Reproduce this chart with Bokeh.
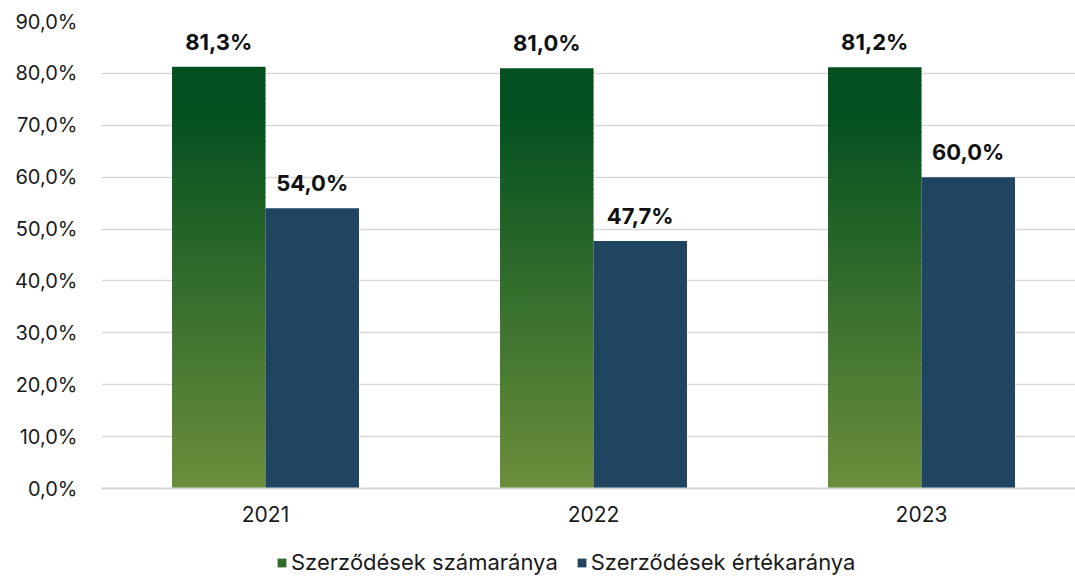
from bokeh.plotting import figure
from bokeh.models import (ColumnDataSource, FixedTicker, Legend, LegendItem, Span)
from bokeh.embed import file_html
from bokeh.resources import INLINE
from bokeh.core.properties import value

# ---- data ----
years = ["2021", "2022", "2023"]
szamarany = [81.3, 81.0, 81.2]
ertekarany = [54.0, 47.7, 60.0]
labels_sz = ["81,3%", "81,0%", "81,2%"]
labels_ert = ["54,0%", "47,7%", "60,0%"]
y_ticks = [0, 10, 20, 30, 40, 50, 60, 70, 80, 90]
series_names = ["Szerződések számaránya", "Szerződések értékaránya"]

FONT = "Inter"
GREEN_BOTTOM = (107, 142, 59)
GREEN_TOP = (2, 80, 31)
BLUE = "#1F4560"
BW = 0.285
NSEG = 90

W, H = 1075, 578
FRAME_LEFT, Y90_PX, Y0_PX = 101, 21, 488
px_per_unit = (Y0_PX - Y90_PX) / 90.0
y_start = -(H - Y0_PX) / px_per_unit
cat_px = 328.0


def grad_color(f):
    t = min(f / 0.9, 1.0)
    c = [round(GREEN_BOTTOM[i] + (GREEN_TOP[i] - GREEN_BOTTOM[i]) * t) for i in range(3)]
    return "#%02x%02x%02x" % tuple(c)


p = figure(width=W, height=H, output_backend="svg", toolbar_location=None,
           x_range=(-0.5, -0.5 + (W - FRAME_LEFT) / cat_px), y_range=(y_start, 90),
           min_border_left=FRAME_LEFT, min_border_right=0, min_border_top=Y90_PX,
           min_border_bottom=0)
p.outline_line_color = None
p.background_fill_color = "white"
p.border_fill_color = "white"
p.xaxis.visible = False

p.xgrid.grid_line_color = None
p.ygrid.grid_line_color = "#D9D9D9"
p.ygrid.grid_line_width = 1.5
p.ygrid.ticker = FixedTicker(ticks=y_ticks)

# gradient green bars (stacked thin segments)
gl, gr, gb, gt, gc = [], [], [], [], []
for i, v in enumerate(szamarany):
    for k in range(NSEG):
        gl.append(i - BW)
        gr.append(i)
        gb.append(v * k / NSEG)
        gt.append(v * (k + 1) / NSEG + (0.0 if k == NSEG - 1 else v * 0.002))
        gc.append(grad_color((k + 0.5) / NSEG))
gsrc = ColumnDataSource(dict(left=gl, right=gr, bottom=gb, top=gt, color=gc))
r_green = p.quad(left="left", right="right", bottom="bottom", top="top",
                 fill_color="color", line_color=None, source=gsrc)

bsrc = ColumnDataSource(dict(left=[i for i in range(3)], right=[i + BW for i in range(3)],
                             bottom=[0] * 3, top=ertekarany))
r_blue = p.quad(left="left", right="right", bottom="bottom", top="top",
                fill_color=BLUE, line_color=None, source=bsrc)

# baseline
p.add_layout(Span(location=0, dimension="width", line_color="#D9D9D9", line_width=2))

# data labels
lsrc = ColumnDataSource(dict(x=[i - BW / 2 for i in range(3)] + [i + BW / 2 for i in range(3)],
                             y=szamarany + ertekarany, t=labels_sz + labels_ert))
p.text(x="x", y="y", text="t", source=lsrc, text_align="center", text_baseline="bottom",
       y_offset=-12, text_font=value(FONT), text_font_style="bold",
       text_font_size="22px", text_color="#111111")

# category labels (x axis)
xsrc = ColumnDataSource(dict(x=[0, 1, 2], y=[0, 0, 0], t=years))
p.text(x="x", y="y", text="t", source=xsrc, text_align="center", text_baseline="middle",
       y_offset=25, text_font=value(FONT), text_font_size="21px", text_color="#1a1a1a")

# y axis
p.yaxis.ticker = FixedTicker(ticks=y_ticks)
p.yaxis.major_label_overrides = {v: f"{v},0%" for v in y_ticks}
p.yaxis.axis_line_color = None
p.yaxis.major_tick_line_color = None
p.yaxis.minor_tick_line_color = None
p.yaxis.major_label_standoff = 18
p.yaxis.major_label_text_font = FONT
p.yaxis.major_label_text_font_size = "20px"
p.yaxis.major_label_text_color = "#1a1a1a"

legend = Legend(items=[LegendItem(label=series_names[0], renderers=[r_green], index=NSEG // 2),
                       LegendItem(label=series_names[1], renderers=[r_blue], index=0)],
                orientation="horizontal", location=(175, 3),
                label_text_font=FONT, label_text_font_size="22px", label_text_color="#1a1a1a",
                glyph_width=11, glyph_height=11, label_standoff=4, spacing=18,
                padding=0, margin=0, border_line_color=None,
                background_fill_alpha=0)
p.add_layout(legend, "center")

open("out.html", "w").write(file_html(p, INLINE))
